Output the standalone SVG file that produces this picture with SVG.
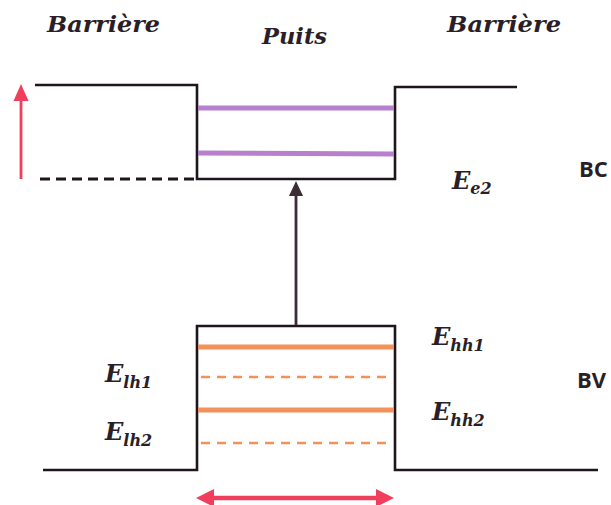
<svg xmlns="http://www.w3.org/2000/svg" width="611" height="505" viewBox="0 0 611 505">
  <style>
    .band { fill: none; stroke: #1e161c; stroke-width: 2.6; stroke-linejoin: miter; }
    .dash { fill: none; stroke: #1e161c; stroke-width: 3; stroke-dasharray: 10 6; }
    .e-lvl { stroke: #b77fcc; stroke-width: 5; }
    .hh { stroke: #f2925a; stroke-width: 5; }
    .lh { stroke: #f2925a; stroke-width: 2.5; stroke-dasharray: 9 7; }
    .title { font-family: "DejaVu Serif", "Liberation Serif", serif; font-weight: bold; font-style: italic; font-size: 23px; fill: #2a1f29; }
    .lbl { font-family: "DejaVu Serif", "Liberation Serif", serif; font-weight: bold; font-style: italic; font-size: 24px; fill: #2a1f29; }
    .sub { font-size: 16px; }
    .band-name { font-family: "Open Sans", "Liberation Sans", sans-serif; font-weight: bold; font-size: 22px; fill: #2a1f29; }
    .red { fill: #ef3f5c; }
  </style>

  <!-- region titles -->
  <g id="titles">
    <text class="title" x="47" y="32" textLength="113" lengthAdjust="spacingAndGlyphs">Barrière</text>
    <text class="title" x="262" y="44" textLength="65" lengthAdjust="spacingAndGlyphs">Puits</text>
    <text class="title" x="447" y="32" textLength="114" lengthAdjust="spacingAndGlyphs">Barrière</text>
  </g>

  <!-- conduction band well -->
  <g id="conduction-band">
    <polyline class="band" points="35,85 197,85 197,179 395,179 395,87 517,87"/>
    <line class="dash" x1="40" y1="179" x2="197" y2="179"/>
    <line class="e-lvl" x1="198" y1="108" x2="394" y2="108"/>
    <line class="e-lvl" x1="198" y1="153" x2="394" y2="154"/>
    <text class="band-name" x="579" y="177">BC</text>
    <text class="lbl" x="452" y="189">E<tspan class="sub" dy="5">e2</tspan></text>
  </g>

  <!-- valence band well -->
  <g id="valence-band">
    <polyline class="band" points="43,470 197,470 197,326 395,326 395,470 598,470"/>
    <line class="hh" x1="198" y1="347" x2="394" y2="347"/>
    <line class="lh" x1="201" y1="377" x2="392" y2="377"/>
    <line class="hh" x1="198" y1="410" x2="394" y2="410"/>
    <line class="lh" x1="201" y1="443" x2="392" y2="443"/>
    <text class="band-name" x="577" y="388">BV</text>
    <text class="lbl" x="432" y="345">E<tspan class="sub" dy="6">hh1</tspan></text>
    <text class="lbl" x="432" y="420">E<tspan class="sub" dy="6">hh2</tspan></text>
    <text class="lbl" x="105" y="382">E<tspan class="sub" dy="6">lh1</tspan></text>
    <text class="lbl" x="105" y="440">E<tspan class="sub" dy="6">lh2</tspan></text>
  </g>

  <!-- arrows -->
  <g id="connectors">
    <!-- interband transition -->
    <line x1="296" y1="325" x2="296" y2="192" stroke="#3a2d36" stroke-width="2.8"/>
    <polygon points="296,181 289,196 303,196" fill="#3a2d36"/>
    <!-- barrier height -->
    <line x1="21" y1="179" x2="21" y2="98" stroke="#ef3f5c" stroke-width="2.8"/>
    <polygon class="red" points="21,84 13.5,101 28.5,101"/>
    <!-- well width -->
    <line x1="210" y1="498" x2="380" y2="498" stroke="#ef3f5c" stroke-width="4.5"/>
    <polygon class="red" points="196,498 214,489 214,507"/>
    <polygon class="red" points="394,498 376,489 376,507"/>
  </g>
</svg>
